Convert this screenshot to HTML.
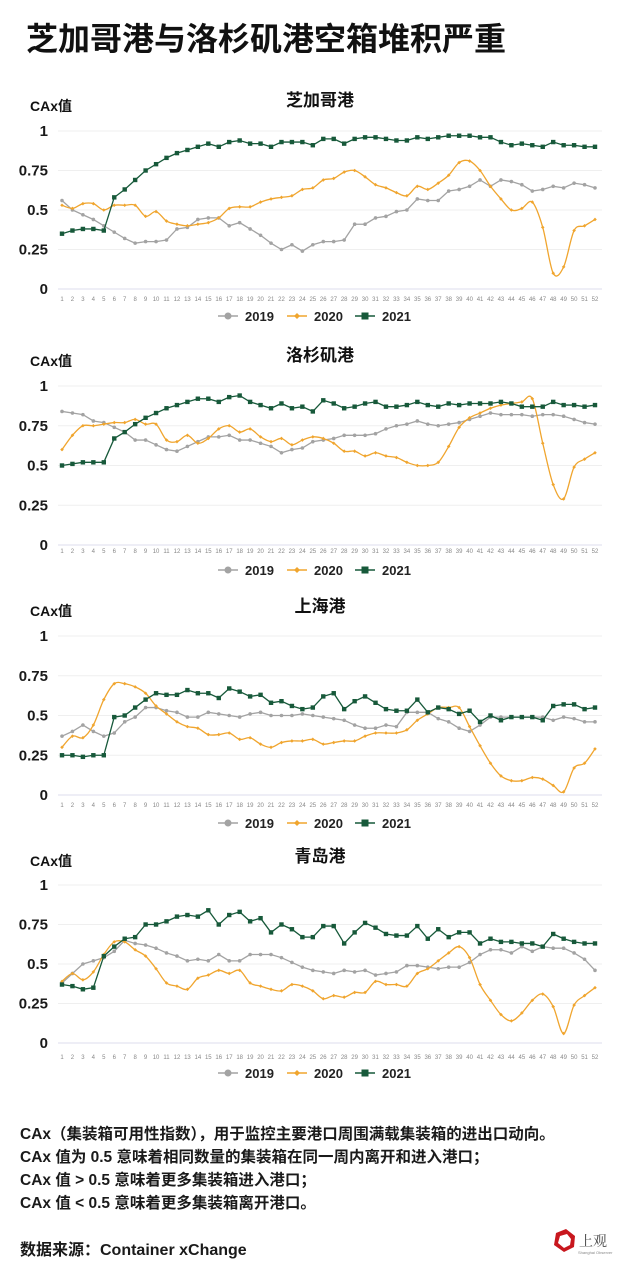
<!DOCTYPE html>
<html><head><meta charset="utf-8">
<style>
html,body{margin:0;padding:0;background:#fff;}
svg{display:block;font-family:"Liberation Sans","Noto Sans CJK SC",sans-serif;}
</style></head>
<body>
<svg id="root" width="640" height="1272" viewBox="0 0 640 1272">
<text x="26" y="50" font-size="32" font-weight="bold" fill="#111">芝加哥港与洛杉矶港空箱堆积严重</text>
<g id="charts"></g>
<g font-size="15.5" font-weight="bold" fill="#1a1a1a">
<text x="20" y="1139">CAx（集装箱可用性指数），用于监控主要港口周围满载集装箱的进出口动向。</text>
<text x="20" y="1162">CAx 值为 0.5 意味着相同数量的集装箱在同一周内离开和进入港口；</text>
<text x="20" y="1185">CAx 值 &gt; 0.5 意味着更多集装箱进入港口；</text>
<text x="20" y="1208">CAx 值 &lt; 0.5 意味着更多集装箱离开港口。</text>
<text x="20" y="1255" font-size="16">数据来源：Container xChange</text>
</g>
<g>
<polygon points="556,1233 566,1229 575,1236 574,1247 564,1252 554,1245" fill="#c8171e"/>
<polygon points="560,1236 567,1234 571,1239 570,1245 564,1248 558,1243" fill="#fff"/>
<text x="579" y="1246" font-size="14" fill="#444" font-family="'Noto Serif CJK SC',serif">上观</text>
<text x="578" y="1254" font-size="4" fill="#888">Shanghai Observer</text>
</g>
</svg>
<script>
const weeks = Array.from({length:52},(_,i)=>String(i+1));
const yTicks = [0,0.25,0.5,0.75,1];
const yTickLabels = ["0","0.25","0.5","0.75","1"];
const seriesNames = ["2019","2020","2021"];
const chicagoTitle = "芝加哥港";
const chicago2019 = [.56,.50,.47,.44,.40,.36,.32,.29,.30,.30,.31,.38,.39,.44,.45,.45,.40,.42,.38,.34,.29,.25,.28,.24,.28,.30,.30,.31,.41,.41,.45,.46,.49,.50,.57,.56,.56,.62,.63,.65,.69,.65,.69,.68,.66,.62,.63,.65,.64,.67,.66,.64];
const chicago2020 = [.53,.51,.54,.54,.50,.53,.53,.53,.46,.49,.43,.41,.40,.41,.42,.45,.51,.52,.52,.55,.57,.58,.59,.63,.64,.69,.70,.74,.75,.71,.66,.64,.61,.59,.65,.63,.67,.72,.80,.81,.75,.65,.57,.50,.51,.55,.39,.10,.14,.37,.40,.44];
const chicago2021 = [.35,.37,.38,.38,.37,.58,.63,.69,.75,.79,.83,.86,.88,.90,.92,.90,.93,.94,.92,.92,.90,.93,.93,.93,.91,.95,.95,.92,.95,.96,.96,.95,.94,.94,.96,.95,.96,.97,.97,.97,.96,.96,.93,.91,.92,.91,.90,.93,.91,.91,.90,.90];
const laTitle = "洛杉矶港";
const la2019 = [.84,.83,.82,.78,.77,.74,.71,.66,.66,.63,.60,.59,.62,.65,.68,.68,.69,.66,.66,.64,.62,.58,.60,.61,.65,.66,.67,.69,.69,.69,.70,.73,.75,.76,.78,.76,.75,.76,.77,.79,.81,.83,.82,.82,.82,.81,.82,.82,.81,.79,.77,.76];
const la2020 = [.60,.69,.75,.75,.76,.77,.77,.79,.76,.76,.66,.65,.69,.64,.67,.73,.75,.71,.73,.68,.65,.67,.63,.66,.68,.67,.64,.59,.59,.56,.58,.56,.55,.52,.50,.50,.52,.62,.74,.80,.83,.86,.88,.89,.90,.92,.64,.38,.29,.49,.54,.58];
const la2021 = [.50,.51,.52,.52,.52,.67,.71,.76,.80,.83,.86,.88,.90,.92,.92,.90,.93,.94,.90,.88,.86,.89,.86,.87,.84,.91,.89,.86,.87,.89,.90,.87,.87,.88,.90,.88,.87,.89,.88,.89,.89,.89,.90,.89,.87,.87,.87,.90,.88,.88,.87,.88];
const shTitle = "上海港";
const sh2019 = [.37,.40,.44,.40,.37,.39,.46,.49,.55,.55,.53,.52,.49,.49,.52,.51,.50,.49,.51,.52,.50,.50,.50,.51,.50,.49,.48,.47,.44,.42,.42,.44,.43,.52,.52,.52,.48,.46,.42,.40,.44,.49,.49,.49,.49,.49,.49,.47,.49,.48,.46,.46];
const sh2020 = [.30,.37,.36,.44,.60,.70,.70,.68,.64,.56,.51,.46,.43,.42,.38,.38,.39,.35,.36,.32,.30,.33,.34,.34,.35,.32,.33,.34,.34,.37,.39,.39,.39,.41,.47,.51,.55,.55,.55,.43,.31,.20,.12,.09,.09,.11,.10,.06,.02,.17,.20,.29];
const sh2021 = [.25,.25,.24,.25,.25,.49,.50,.55,.60,.64,.63,.63,.66,.64,.64,.61,.67,.65,.62,.63,.58,.59,.56,.54,.55,.62,.64,.54,.59,.62,.58,.54,.53,.53,.60,.52,.55,.54,.51,.53,.46,.50,.47,.49,.49,.49,.47,.56,.57,.57,.54,.55];
const qdTitle = "青岛港";
const qd2019 = [.38,.44,.50,.52,.54,.58,.65,.63,.62,.60,.57,.55,.52,.53,.52,.56,.52,.52,.56,.56,.56,.54,.51,.48,.46,.45,.44,.46,.45,.46,.43,.44,.45,.49,.49,.48,.47,.48,.48,.51,.56,.59,.59,.57,.61,.58,.61,.60,.60,.57,.53,.46];
const qd2020 = [.39,.44,.40,.45,.56,.64,.64,.59,.55,.47,.38,.36,.34,.41,.43,.46,.44,.46,.38,.36,.34,.33,.37,.36,.33,.28,.30,.29,.32,.32,.39,.37,.37,.36,.44,.47,.52,.57,.61,.54,.37,.27,.18,.14,.19,.27,.31,.23,.06,.24,.30,.35];
const qd2021 = [.37,.36,.34,.35,.55,.61,.66,.67,.75,.75,.77,.80,.81,.80,.84,.75,.81,.83,.77,.79,.70,.75,.72,.67,.67,.74,.74,.63,.70,.76,.73,.69,.68,.68,.74,.66,.72,.67,.70,.70,.63,.66,.64,.64,.63,.63,.61,.69,.66,.64,.63,.63];

const NS="http://www.w3.org/2000/svg";
const colors={"2019":"#a3a3a3","2020":"#f0a52e","2021":"#17593a"};
const layouts=[
 {title:chicagoTitle,data:[chicago2019,chicago2020,chicago2021],y1:131,y0:289,ty:106,cy:111,xl:301,lg:316,key:"chicago"},
 {title:laTitle,data:[la2019,la2020,la2021],y1:386,y0:545,ty:361,cy:366,xl:553,lg:570,key:"la"},
 {title:shTitle,data:[sh2019,sh2020,sh2021],y1:636,y0:795,ty:612,cy:616,xl:807,lg:823,key:"shanghai"},
 {title:qdTitle,data:[qd2019,qd2020,qd2021],y1:885,y0:1043,ty:862,cy:866,xl:1059,lg:1073,key:"qingdao"}
];
const root=document.getElementById('charts');
function mk(tag,attrs,parent){const e=document.createElementNS(NS,tag);for(const k in attrs)e.setAttribute(k,attrs[k]);parent.appendChild(e);return e;}
const xL=62,xR=595;
layouts.forEach(L=>{
 const g=mk('g',{},root);
 
 
 const xs=i=>xL+(xR-xL)*i/(weeks.length-1);
 const ys=v=>L.y0-(L.y0-L.y1)*v;
 const t=mk('text',{x:320,y:L.ty,'text-anchor':'middle','font-size':17,'font-weight':'bold',fill:'#111'},g);
 t.textContent=L.title;
 
 
 const c=mk('text',{x:30,y:L.cy,'font-size':14,'font-weight':'bold',fill:'#111'},g);
 c.textContent='CAx值';
 
 
 yTicks.forEach((v,i)=>{
  const gl=mk('line',{x1:58,x2:602,y1:ys(v),y2:ys(v),stroke:i===0?'#dcdcec':'#efefef','stroke-width':1},g);
  
  
  const tl=mk('text',{x:48,y:ys(v)+5,'text-anchor':'end','font-size':15,'font-weight':'bold',fill:'#1a1a1a'},g);
  tl.textContent=yTickLabels[i];
  
  
 });
 weeks.forEach((w,i)=>{
  const xt=mk('text',{x:xs(i),y:L.xl,'text-anchor':'middle','font-size':6,fill:'#888'},g);
  xt.textContent=w;
  
  
 });
 L.data.forEach((arr,si)=>{
  const name=seriesNames[si],col=colors[name];
  const pts=arr.map((v,i)=>[xs(i),ys(v)]);
  let d='M'+pts[0][0]+','+pts[0][1];
  if(si===1){
   for(let i=0;i<pts.length-1;i++){
    const p0=pts[Math.max(0,i-1)],p1=pts[i],p2=pts[i+1],p3=pts[Math.min(pts.length-1,i+2)];
    const c1x=p1[0]+(p2[0]-p0[0])/6,c1y=p1[1]+(p2[1]-p0[1])/6;
    const c2x=p2[0]-(p3[0]-p1[0])/6,c2y=p2[1]-(p3[1]-p1[1])/6;
    d+=` C${c1x},${c1y} ${c2x},${c2y} ${p2[0]},${p2[1]}`;
   }
  } else pts.slice(1).forEach(p=>d+=' L'+p[0]+','+p[1]);
  const path=mk('path',{d:d,fill:'none',stroke:col,'stroke-width':1.3},g);
  
  
  pts.forEach(p=>{
   let m;
   if(si===0)m=mk('circle',{cx:p[0],cy:p[1],r:1.8,fill:col},g);
   else if(si===1)m=mk('polygon',{points:`${p[0]},${p[1]-1.8} ${p[0]+1.8},${p[1]} ${p[0]},${p[1]+1.8} ${p[0]-1.8},${p[1]}`,fill:col},g);
   else m=mk('rect',{x:p[0]-2.2,y:p[1]-2.2,width:4.4,height:4.4,fill:col},g);
   
   
  });
 });
 const lx=[218,287,355];
 seriesNames.forEach((name,si)=>{
  const col=colors[name];
  const lg=mk('g',{},g);
  
  
  mk('line',{x1:lx[si],x2:lx[si]+20,y1:L.lg,y2:L.lg,stroke:col,'stroke-width':1.5},lg);
  if(si===0)mk('circle',{cx:lx[si]+10,cy:L.lg,r:3.5,fill:col},lg);
  else if(si===1)mk('polygon',{points:`${lx[si]+10},${L.lg-3} ${lx[si]+13},${L.lg} ${lx[si]+10},${L.lg+3} ${lx[si]+7},${L.lg}`,fill:col},lg);
  else mk('rect',{x:lx[si]+6.5,y:L.lg-3.5,width:7,height:7,fill:col},lg);
  const tt=mk('text',{x:lx[si]+27,y:L.lg+5,'font-size':13,'font-weight':'bold',fill:'#222'},lg);
  tt.textContent=name;
 });
});
</script>
</body></html>
